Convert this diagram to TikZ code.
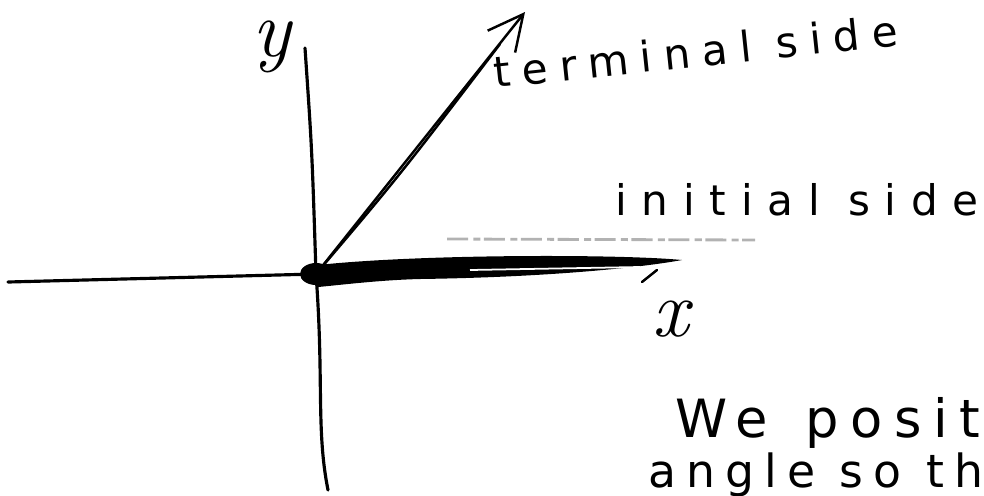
\documentclass[tikz,border=0pt]{standalone}
\usepackage{fontspec}
\newfontfamily\handfont{DejaVu Sans}
\usetikzlibrary{arrows.meta}

\begin{document}
\begin{tikzpicture}[x=0.02cm,y=-0.02cm,every node/.style={inner sep=0pt,anchor=base west},
  axisline/.style={line width=1.8pt,line cap=round},
  sideline/.style={line width=1.4pt,line cap=round},
  hand/.style 2 args={font=\fontsize{#1}{#1}\handfont\addfontfeatures{LetterSpace=#2}},
  letter/.style={font=\fontsize{46}{46}\selectfont\itshape}]
\useasboundingbox (0,0) rectangle (984,495);
\clip (0,0) rectangle (984,495);
% axes
\coordinate(O) at (316,274);
\coordinate(ytop) at (305,48);
\coordinate(ybot) at (328,490);
\coordinate(xleft) at (8,282);
\draw[axisline](ytop) .. controls (312,150) .. (O);
\draw[axisline](O) .. controls (324,380) and (316,430) .. (ybot);
\draw[axisline](xleft)--(O);
\fill(O) ellipse[x radius=16,y radius=11];
% initial side
\coordinate(I) at (682,260);
\fill(318,265) .. controls (420,254) and (620,254) .. (I) .. controls (650,266) and (560,277) .. (420,279) .. controls (380,280) and (340,285) .. (318,287) -- cycle;
\draw[white,line width=1pt](470,270)--(640,267);
\draw[sideline](657,270)--(642,282);
\draw[gray!60,line width=1.6pt,dash pattern=on 12pt off 3pt on 4pt off 2pt](447,239)--(755,240);
% terminal side
\coordinate(T) at (525,12);
\draw[sideline,-{Straight Barb[length=20pt,width=20pt]}](O)--(T);
\draw[sideline](O) .. controls (400,175) .. (500,44);
% labels
\node[letter](ylab) at (252,56) {y};
\node[letter](xlab) at (652,336) {x};
\node[hand={24}{28},rotate=6](term) at (495,88) {terminal side};
\node[hand={24}{35}](init) at (615,215) {initial side};
\node[hand={30}{22}](line1) at (675,437) {We\hspace{0.7em}posit};
\node[hand={26}{22}](line2) at (648,487) {angle so th};
\end{tikzpicture}
\end{document}
